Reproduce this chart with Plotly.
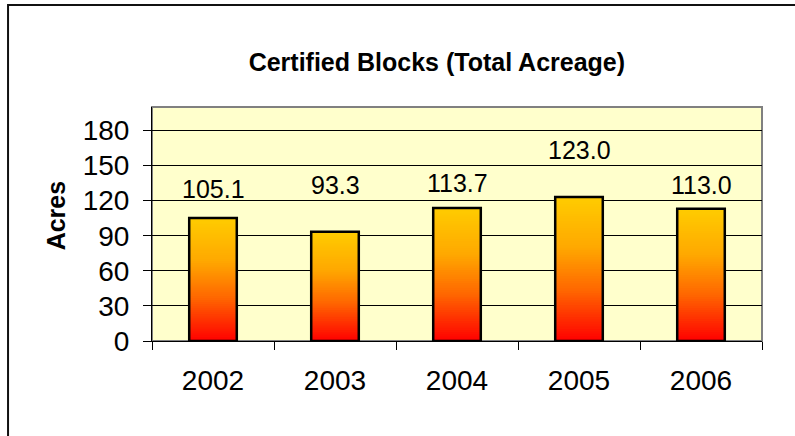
import plotly.graph_objects as go

# ---- data ----
years = ["2002", "2003", "2004", "2005", "2006"]
acres = [105.1, 93.3, 113.7, 123.0, 113.0]
y_ticks = [0, 30, 60, 90, 120, 150, 180]

# ---- style ----
label_shift_px = [29, 47, 25, 47, 24]   # pixel offset of value labels above bar tops
FONT = "Liberation Sans, Arial, sans-serif"
N_SEG = 60
grad_stops = [(0.0, (255, 0, 0)), (0.35, (255, 102, 0)), (0.65, (255, 168, 0)), (1.0, (255, 204, 0))]


def grad_color(t):
    for (t0, c0), (t1, c1) in zip(grad_stops[:-1], grad_stops[1:]):
        if t0 <= t <= t1:
            f = (t - t0) / (t1 - t0)
            c = [round(a + (b - a) * f) for a, b in zip(c0, c1)]
            return f"rgb({c[0]},{c[1]},{c[2]})"
    c = grad_stops[-1][1]
    return f"rgb({c[0]},{c[1]},{c[2]})"


fig = go.Figure()
# gradient fill: each bar split into overlapping stacked slices (per-bar vertical gradient)
for k in range(N_SEG):
    t = (k + 0.5) / N_SEG
    bases = [v * k / N_SEG for v in acres]
    heights = [min(3 * v / N_SEG, v - b) for v, b in zip(acres, bases)]
    fig.add_trace(go.Bar(
        x=years,
        y=heights,
        base=bases,
        marker=dict(color=grad_color(t), line=dict(width=0)),
        hoverinfo="skip",
        showlegend=False,
    ))
# outline
fig.add_trace(go.Bar(
    x=years,
    y=acres,
    marker=dict(color="rgba(0,0,0,0)", line=dict(color="black", width=2.5)),
    showlegend=False,
))

annotations = []
for i, (v, s) in enumerate(zip(acres, label_shift_px)):
    annotations.append(dict(
        x=i, y=v, xref="x", yref="y", text=f"{v:.1f}", showarrow=False,
        yanchor="middle", yshift=s, font=dict(family=FONT, size=25, color="black"),
    ))
annotations.append(dict(
    x=-0.157, y=0.538, xref="paper", yref="paper", text="<b>Acres</b>", textangle=-90,
    showarrow=False, xanchor="center", yanchor="middle",
    font=dict(family=FONT, size=25, color="black"),
))

fig.update_layout(
    width=795, height=436,
    margin=dict(l=152, r=33, t=107, b=95),
    paper_bgcolor="white",
    plot_bgcolor="#FFFFCC",
    barmode="overlay",
    bargap=0.61,
    title=dict(
        text="<b>Certified Blocks (Total Acreage)</b>",
        x=0.467, xref="paper", xanchor="center",
        y=1 - 62 / 436, yref="container", yanchor="middle",
        font=dict(family=FONT, size=25, color="black"),
    ),
    annotations=annotations,
    showlegend=False,
    shapes=[
        dict(type="rect", xref="paper", yref="paper", x0=0, x1=1, y0=0, y1=1,
             line=dict(color="#808080", width=2), layer="below"),
        dict(type="rect", xref="paper", yref="paper", x0=-0.236, x1=1.2, y0=-0.6, y1=1.436,
             line=dict(color="#111111", width=2), fillcolor="rgba(0,0,0,0)", layer="above"),
    ],
)

fig.update_xaxes(
    type="category",
    categoryorder="array", categoryarray=years,
    range=[-0.5, 4.5], autorange=False, automargin=False,
    showline=True, linecolor="black", linewidth=1,
    ticks="outside", ticklen=8, tickcolor="black", tickson="boundaries",
    showgrid=False, tickangle=0,
    tickfont=dict(family=FONT, size=28, color="black"),
    ticklabelstandoff=14,
)
fig.update_yaxes(
    range=[0, 200], autorange=False, automargin=False,
    tickvals=y_ticks,
    showline=True, linecolor="black", linewidth=1,
    ticks="outside", ticklen=8, tickcolor="black",
    showgrid=True, gridcolor="black", gridwidth=1,
    zeroline=False,
    tickfont=dict(family=FONT, size=28, color="black"),
    ticklabelstandoff=8,
)

fig.write_html(
    "out.html",
    config={"displayModeBar": False},
    post_script="document.body.style.margin='0';document.body.style.overflow='hidden';",
)
